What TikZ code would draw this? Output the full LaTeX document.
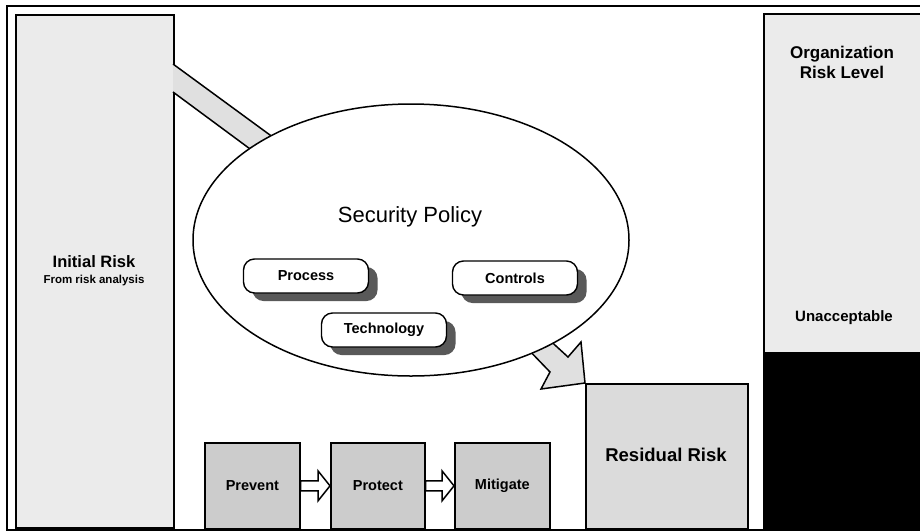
\documentclass[tikz,border=0pt]{standalone}
\usepackage{fontspec}
\setmainfont{Liberation Sans}
\usetikzlibrary{shapes.geometric,shadows,calc}
\definecolor{lightbox}{gray}{0.92}
\definecolor{midbox}{gray}{0.80}
\definecolor{resbox}{gray}{0.86}
\definecolor{bandfill}{gray}{0.88}
\begin{document}
\begin{tikzpicture}[x=1pt,y=-1pt,
  box/.style={draw,line width=1.7pt,inner sep=0pt,anchor=north west},
  lbl/.style={font=\bfseries\fontsize{16.5}{19}\selectfont,align=center,inner sep=0pt},
  small/.style={font=\bfseries\fontsize{11.5}{13}\selectfont,inner sep=0pt},
  pill/.style={draw,line width=1.4pt,fill=white,rounded corners=11pt,minimum width=125pt,minimum height=34pt,inner sep=0pt,
    font=\bfseries\fontsize{14.5}{16}\selectfont,
    drop shadow={shadow xshift=9pt,shadow yshift=-8pt,fill=black!65,opacity=1}},
  barrow/.style={draw,line width=1.5pt,fill=bandfill,line join=miter}
]
\useasboundingbox (0,0) rectangle (920,531);
\fill[white] (0,0) rectangle (920,531);
% outer frame
\draw[line width=1.3pt] (7,6) rectangle (935,530);

% initial risk box
\node[box,fill=lightbox,minimum width=158pt,minimum height=513pt] (initial) at (15,14) {};
\node[lbl] (initialtxt) at (94,262) {Initial Risk};
\node[small] (fromtxt) at (94,281) {From risk analysis};

% right column
\node[box,fill=lightbox,minimum width=170pt,minimum height=339pt] (org) at (763,13) {};
\node[box,fill=black,minimum width=170pt,minimum height=175pt] (orgdark) at (763,352) {};
\node[lbl,font=\bfseries\fontsize{17}{20}\selectfont] (orgtxt) at (842,62) {Organization\\Risk Level};
\node[lbl,font=\bfseries\fontsize{15}{18}\selectfont] (unacc) at (844,318) {Unacceptable};

% residual risk box
\node[box,fill=resbox,minimum width=162pt,minimum height=145pt] (residual) at (585,383) {};
\node[lbl,font=\bfseries\fontsize{18.5}{21}\selectfont] (restxt) at (666,455) {Residual Risk};

% prevent / protect / mitigate
\node[box,fill=midbox,minimum width=95pt,minimum height=86pt] (prevent) at (204,442) {};
\node[box,fill=midbox,minimum width=94pt,minimum height=86pt] (protect) at (330,442) {};
\node[box,fill=midbox,minimum width=95pt,minimum height=86pt] (mitigate) at (454,442) {};
\node[lbl,font=\bfseries\fontsize{14.5}{16}\selectfont] (preventtxt) at (prevent.center) {Prevent};
\node[lbl,font=\bfseries\fontsize{14.5}{16}\selectfont] (protecttxt) at (protect.center) {Protect};
\node[lbl,font=\bfseries\fontsize{14.5}{16}\selectfont] (mitigatetxt) at (mitigate.center) {Mitigate};

\draw[barrow,fill=white] ($(prevent.east)+(0,-5)$) -- ($(protect.west)+(-12,-5)$) -- ($(protect.west)+(-12,-15)$) -- (protect.west)
  -- ($(protect.west)+(-12,15)$) -- ($(protect.west)+(-12,5)$) -- ($(prevent.east)+(0,5)$) -- cycle;
\draw[barrow,fill=white] ($(protect.east)+(0,-5)$) -- ($(mitigate.west)+(-12,-5)$) -- ($(mitigate.west)+(-12,-15)$) -- (mitigate.west)
  -- ($(mitigate.west)+(-12,15)$) -- ($(mitigate.west)+(-12,5)$) -- ($(protect.east)+(0,5)$) -- cycle;

% band from initial risk into the policy
\coordinate (bandA) at (173,64);
\coordinate (bandB) at (173,92);
\coordinate (bandC) at (265,160);
\coordinate (bandD) at (285,146);
\fill[bandfill] (bandA) -- (bandD) -- (bandC) -- (bandB) -- cycle;
\draw[line width=1.5pt] (bandA) -- (bandD) (bandC) -- (bandB);

% arrow from policy to residual risk
\draw[barrow] (524,345) -- (550,372) -- (541,389) -- (residual.north west) -- (581,342) -- (568,357) -- (544,335) -- cycle;

% security policy ellipse
\node[draw,ellipse,line width=1.5pt,fill=white,minimum width=436pt,minimum height=272pt,inner sep=0pt] (policy) at (411,240) {};
\node[font=\fontsize{22}{26}\selectfont,inner sep=0pt] (policytxt) at (410,217) {Security Policy};

\node[pill] (process) at (306,276) {Process};
\node[pill] (controls) at (515,278) {Controls};
\node[pill] (tech) at (384,330) {Technology};
\end{tikzpicture}
\end{document}
